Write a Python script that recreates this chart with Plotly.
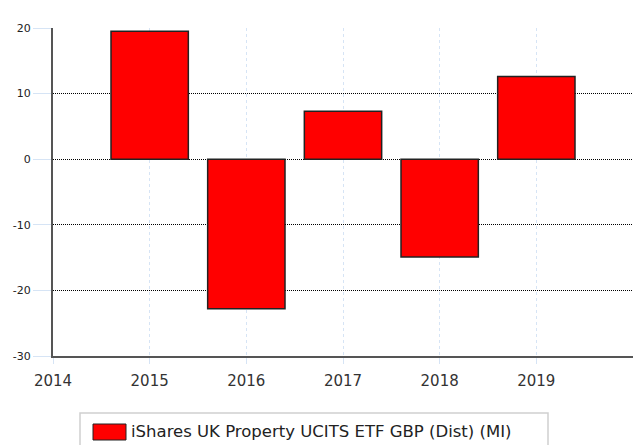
import plotly.graph_objects as go

years = [2015, 2016, 2017, 2018, 2019]
returns = [19.5, -22.8, 7.3, -14.9, 12.6]
series_name = "iShares UK Property UCITS ETF GBP (Dist) (MI)"
x_ticks = [2014, 2015, 2016, 2017, 2018, 2019]
y_ticks = [-30, -20, -10, 0, 10, 20]

fig = go.Figure()
fig.add_trace(go.Bar(
    x=years, y=returns, width=0.8, name=series_name,
    marker=dict(color="#ff0000", line=dict(color="#222222", width=1.5)),
    showlegend=False,
))

fig.update_layout(
    width=637, height=445,
    margin=dict(l=53, r=4, t=28, b=89, autoexpand=False),
    paper_bgcolor="white", plot_bgcolor="white",
    font=dict(family="DejaVu Sans", color="#333333"),
    xaxis=dict(
        range=[2014, 2020], tickvals=x_ticks, ticktext=[str(v) for v in x_ticks],
        showgrid=True, gridcolor="#d6e4f5", griddash="dot", gridwidth=1,
        showline=True, linecolor="#555555", linewidth=2,
        ticks="outside", ticklen=6, tickcolor="#d6e4f5", ticklabelstandoff=4,
        tickfont=dict(size=15, color="#333333"), zeroline=False, automargin=False,
    ),
    yaxis=dict(
        range=[-30, 20], tickvals=y_ticks, ticktext=[str(v) for v in y_ticks],
        showgrid=True, gridcolor="#000000", griddash="1px,1px", gridwidth=1,
        showline=True, linecolor="#555555", linewidth=2,
        ticks="outside", ticklen=18, tickcolor="#d6e4f5",
        tickfont=dict(size=11, color="#222222"), zeroline=False, automargin=False,
    ),
    bargap=0.2,
)

# manual legend box
fig.add_shape(type="rect", xref="paper", yref="paper",
              x0=(80 - 53) / 580, x1=(548 - 53) / 580,
              y0=(356 - 447) / 328, y1=(356 - 413) / 328,
              line=dict(color="#d0d0d0", width=1.5), fillcolor="white", layer="above")
fig.add_shape(type="rect", xref="paper", yref="paper",
              x0=(93 - 53) / 580, x1=(126 - 53) / 580,
              y0=(356 - 440) / 328, y1=(356 - 424) / 328,
              line=dict(color="#222222", width=1), fillcolor="#ff0000", layer="above")
fig.add_annotation(xref="paper", yref="paper",
                   x=(129 - 53) / 580, y=(356 - 431) / 328,
                   xanchor="left", yanchor="middle", showarrow=False,
                   text=series_name, font=dict(size=16.5, color="#222222"))

fig.write_html("out.html", config={"displayModeBar": False},
               post_script="document.body.style.margin='0';document.body.style.overflow='hidden';")
